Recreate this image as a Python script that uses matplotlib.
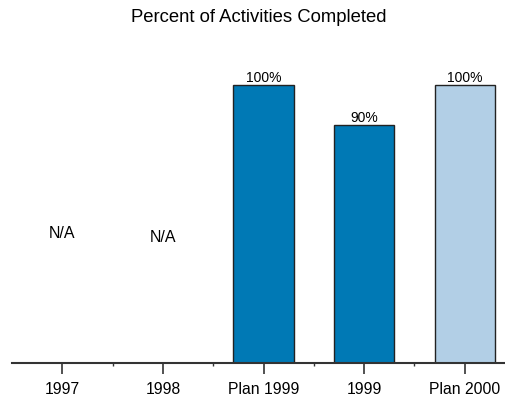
import matplotlib.pyplot as plt
import numpy as np

plt.rcParams['font.family'] = ['Liberation Sans', 'DejaVu Sans']

categories = ["1997", "1998", "Plan 1999", "1999", "Plan 2000"]
values = [None, None, 100, 90, 100]
labels = ["N/A", "N/A", "100%", "90%", "100%"]
colors = ["#0079b5", "#0079b5", "#0079b5", "#0079b5", "#b2cfe6"]

fig = plt.figure(figsize=(5.06, 3.98), dpi=100)
ax = fig.add_axes([12 / 506, 1 - 363 / 398, 1 - 12 / 506, (363 - 65) / 398])

x = np.arange(len(categories))
base = 30.5
na_y = [63, 62]
for i, v in enumerate(values):
    if v is None:
        ax.text(i, na_y[i], labels[i], ha="center", va="center", fontsize=11.5)
        continue
    ax.bar(i, v - base, bottom=base, width=0.6, color=colors[i],
           edgecolor="#222222", linewidth=1.0)
    ax.text(i, v, labels[i], ha="center", va="bottom", fontsize=10)

ax.set_xlim(-0.5, 4.41)
ax.set_ylim(base, 105)
ax.set_xticks(x)
ax.set_xticklabels(categories, fontsize=11.3)
ax.set_xticks(x[:-1] + 0.5, minor=True)
ax.tick_params(axis="x", which="major", direction="out", length=8, width=1.2, color="#333333", pad=6)
ax.tick_params(axis="x", which="minor", direction="out", length=2, width=1, color="#333333")
ax.set_yticks([])
for s in ["top", "right", "left"]:
    ax.spines[s].set_visible(False)
ax.spines["bottom"].set_linewidth(1.5)
ax.spines["bottom"].set_color("#333333")

fig.text(0.512, 1 - 18 / 398, "Percent of Activities Completed", ha="center", va="center", fontsize=13.3)

fig.savefig("out.png", dpi=100)
